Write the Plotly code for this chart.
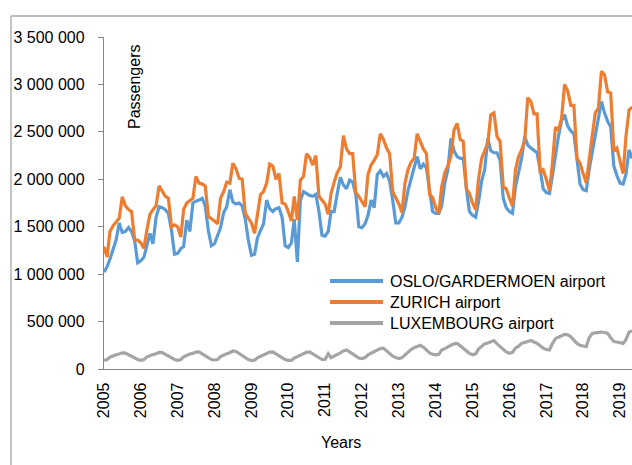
import pandas as pd
import plotly.graph_objects as go

# Monthly passengers (thousands), Jan 2005 ... May 2019
oslo = [
    1020, 1080, 1160, 1260, 1360, 1540, 1440, 1450, 1490, 1450, 1350, 1120,
    1140, 1180, 1300, 1430, 1320, 1600, 1710, 1700, 1680, 1640, 1460, 1210,
    1220, 1270, 1290, 1570, 1450, 1750, 1770, 1780, 1800, 1720, 1460, 1300,
    1320, 1400, 1490, 1650, 1710, 1890, 1760, 1740, 1750, 1720, 1580, 1360,
    1200, 1210, 1380, 1460, 1530, 1780, 1690, 1660, 1690, 1700, 1600, 1300,
    1280, 1330, 1580, 1130, 1780, 1870, 1850, 1830, 1820, 1840, 1660, 1410,
    1400, 1450, 1660, 1660, 1850, 2020, 1940, 1900, 1990, 1970, 1840, 1500,
    1490, 1530, 1620, 1780, 1700, 2050, 2090, 2030, 2060, 1980, 1780, 1540,
    1540, 1600, 1700, 1880, 2000, 2130, 2240, 2110, 2160, 2120, 1900, 1660,
    1640, 1640, 1720, 1960, 2100, 2430, 2300, 2240, 2220, 2220, 1900, 1660,
    1620, 1600, 1760, 1980, 2100, 2430, 2300, 2280, 2280, 2200, 1800, 1700,
    1660, 1640, 1920, 2080, 2220, 2450, 2360, 2330, 2300, 2280, 2100, 1900,
    1860, 1850, 2030, 2250, 2450, 2620, 2680, 2560, 2510, 2480, 2220, 1950,
    1890, 1880, 2100, 2280, 2450, 2640, 2820, 2700, 2610, 2550, 2140, 2040,
    1960, 1950, 2050, 2310, 2220,
]
zurich = [
    1290, 1180, 1450, 1510, 1550, 1590, 1815, 1720, 1680, 1660, 1360, 1360,
    1330, 1270, 1460, 1630, 1680, 1720, 1930, 1870, 1820, 1800, 1500, 1520,
    1500, 1390, 1680, 1750, 1770, 1800, 2030, 1960, 1950, 1930, 1610, 1590,
    1560, 1530, 1800, 1870, 1970, 1960, 2170, 2110, 2010, 2000, 1640, 1590,
    1540, 1430, 1650, 1840, 1870, 1960, 2160, 2140, 2000, 2060, 1750, 1740,
    1660, 1560, 1820, 1570, 1990, 2030, 2270, 2230, 2150, 2250, 1820, 1780,
    1740, 1630, 1850, 1970, 2070, 2130, 2460, 2320, 2270, 2270, 1860, 1820,
    1760, 1710, 2050, 2150, 2200, 2260, 2480, 2420, 2330, 2270, 1870, 1810,
    1740, 1650, 1950, 2100, 2180, 2220, 2480, 2400, 2320, 2270, 1840, 1810,
    1700, 1640, 1920, 2070, 2140, 2240, 2520, 2590, 2420, 2400, 1900, 1850,
    1750, 1680, 2000, 2220, 2300, 2380, 2680, 2700, 2450, 2400, 1920, 1900,
    1800, 1720, 2100, 2240, 2310, 2410, 2860, 2820, 2690, 2690, 2080, 2100,
    2000, 1880, 2150, 2550, 2520, 2640, 3000, 2930, 2780, 2780, 2220, 2170,
    2060, 1960, 2200, 2450, 2700, 2750, 3140, 3100, 2920, 2910, 2300, 2330,
    2200, 2060, 2450, 2730, 2760,
]
luxembourg = [
    90, 100, 125, 140, 150, 158, 170, 168, 150, 135, 115, 100,
    92, 100, 125, 140, 152, 160, 175, 172, 155, 138, 115, 100,
    92, 100, 128, 145, 158, 165, 178, 180, 160, 140, 118, 100,
    95, 100, 130, 150, 160, 172, 190, 185, 165, 145, 118, 100,
    90, 92, 118, 135, 148, 160, 178, 180, 160, 140, 115, 100,
    90, 90, 115, 130, 145, 158, 175, 180, 160, 140, 118, 100,
    100, 160, 120, 135, 155, 170, 190, 200, 180, 160, 130, 115,
    110, 120, 150, 165, 180, 195, 215, 220, 190, 165, 135, 120,
    110, 120, 150, 180, 205, 225, 240, 250, 230, 200, 170, 155,
    150, 155, 200, 215, 235, 250, 265, 270, 245, 220, 185, 165,
    150, 160, 210, 235, 265, 275, 290, 300, 265, 235, 200, 180,
    165, 175, 220, 240, 270, 280, 295, 300, 285, 270, 245, 220,
    205, 200, 265, 320, 335, 350, 365, 360, 340, 305, 270, 250,
    240, 235, 330, 375, 380, 385, 390, 385, 375, 330, 290, 285,
    275, 270, 310, 390, 400,
]
series_names = ["OSLO/GARDERMOEN airport", "ZURICH airport", "LUXEMBOURG airport"]
series_colors = ["#5B9BD5", "#ED7D31", "#A5A5A5"]
year_labels = [str(y) for y in range(2005, 2020)]
y_ticks = [0, 500000, 1000000, 1500000, 2000000, 2500000, 3000000, 3500000]

months = pd.date_range("2005-01-01", periods=len(zurich), freq="MS")

FONT = "Liberation Sans, Arial, sans-serif"
W, H = 632, 465
L, R, T, B = 104, 0, 37, 96
PW, PH = W - L - R, H - T - B


def px_x(px):
    return (px - L) / PW


def px_y(py):
    return (H - B - py) / PH


fig = go.Figure()
for name, vals, col in zip(series_names, [oslo, zurich, luxembourg], series_colors):
    fig.add_trace(go.Scatter(
        x=months, y=[v * 1000 for v in vals], mode="lines", name=name,
        line=dict(color=col, width=3.2), showlegend=False,
    ))

fig.update_layout(
    width=W, height=H,
    margin=dict(l=L, r=R, t=T, b=B, pad=0),
    paper_bgcolor="white", plot_bgcolor="white",
    font=dict(family=FONT, size=16, color="black"),
    separators=", ",
    showlegend=False,
)
fig.update_xaxes(
    range=["2005-01-01", "2019-04-30"],
    tickvals=[f"{y}-01-01" for y in year_labels], ticktext=year_labels,
    tickangle=-90, showgrid=False, zeroline=False,
    showline=True, linecolor="#868686", linewidth=1.3,
    ticks="", ticklabelstandoff=6,
    tickfont=dict(family=FONT, size=16, color="black"),
)
fig.update_yaxes(
    range=[0, 3500000], tickvals=y_ticks, tickformat=",d",
    showgrid=False, zeroline=False,
    showline=True, linecolor="#868686", linewidth=1.3,
    ticks="outside", ticklen=5, tickcolor="#868686", tickwidth=1.3,
    ticklabelstandoff=10,
    tickfont=dict(family=FONT, size=16, color="black"),
)

# outer chart border (left and top visible)
fig.add_shape(type="line", xref="paper", yref="paper",
              x0=px_x(11), x1=px_x(11), y0=px_y(16), y1=px_y(480),
              line=dict(color="#A6A6A6", width=1.3))
fig.add_shape(type="line", xref="paper", yref="paper",
              x0=px_x(11), x1=px_x(700), y0=px_y(16), y1=px_y(16),
              line=dict(color="#A6A6A6", width=1.3))

# legend drawn inside plot
for i, (name, col) in enumerate(zip(series_names, series_colors)):
    yy = 281 + 21 * i
    fig.add_shape(type="line", xref="paper", yref="paper",
                  x0=px_x(330), x1=px_x(383), y0=px_y(yy), y1=px_y(yy),
                  line=dict(color=col, width=4))
    fig.add_annotation(xref="paper", yref="paper", x=px_x(388), y=px_y(yy),
                       text=name, showarrow=False, xanchor="left", yanchor="middle",
                       font=dict(family=FONT, size=16, color="black"))

fig.add_annotation(xref="paper", yref="paper", x=px_x(134), y=px_y(87),
                   text="Passengers", textangle=-90, showarrow=False,
                   xanchor="center", yanchor="middle",
                   font=dict(family=FONT, size=16, color="black"))
fig.add_annotation(xref="paper", yref="paper", x=px_x(341), y=px_y(442),
                   text="Years", showarrow=False,
                   xanchor="center", yanchor="middle",
                   font=dict(family=FONT, size=16, color="black"))

fig.write_html("out.html")
